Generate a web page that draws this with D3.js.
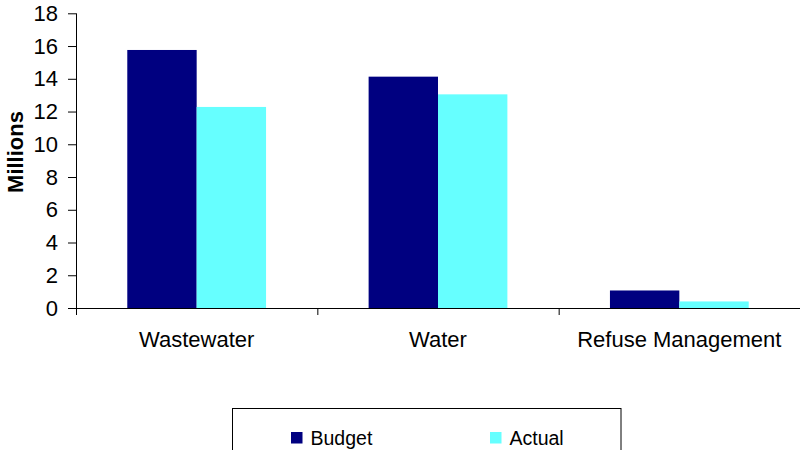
<!DOCTYPE html>
<html>
<head>
<meta charset="utf-8">
<script src="https://cdn.jsdelivr.net/npm/d3@7"></script>
<style>
  html, body { margin: 0; padding: 0; background: #fff; }
  svg { display: block; font-family: "Liberation Sans", Arial, sans-serif; }
</style>
</head>
<body>
<svg id="chart" width="800" height="450"></svg>
<script>
// Budget vs actual spending by utility (millions)
const categories = ["Wastewater", "Water", "Refuse Management"];
const seriesNames = ["Budget", "Actual"];
const budget = [15.76, 14.13, 1.07];
const actual = [12.28, 13.05, 0.40];
const yTicks = [0, 2, 4, 6, 8, 10, 12, 14, 16, 18];
const colors = ["#000080", "#66FFFF"];

const svg = d3.select("#chart");
const plotLeft = 76, plotRight = 800, plotTop = 13.3, plotBottom = 308;

const x = d3.scaleBand().domain(categories).range([plotLeft, plotRight])
  .paddingInner(0.425).paddingOuter(0.2125);
const sub = d3.scaleBand().domain(seriesNames).range([0, x.bandwidth()]);
const y = d3.scaleLinear().domain([0, 18]).range([plotBottom, plotTop]);

const rows = categories.map((c, i) => ({ c, vals: [budget[i], actual[i]] }));

// bars
const g = svg.append("g");
rows.forEach(r => {
  r.vals.forEach((v, j) => {
    g.append("rect")
      .attr("x", x(r.c) + sub(seriesNames[j]))
      .attr("y", y(v))
      .attr("width", sub.bandwidth())
      .attr("height", y(0) - y(v))
      .attr("fill", colors[j]);
  });
});

// y axis
const yAxis = svg.append("g").attr("transform", `translate(${plotLeft},0)`)
  .call(d3.axisLeft(y).tickValues(yTicks).tickSize(8).tickPadding(10).tickSizeOuter(0));
yAxis.select(".domain").attr("d", `M0.5,${plotTop}V${plotBottom + 6}`).attr("stroke", "#000");
yAxis.selectAll(".tick line").attr("stroke", "#000");
yAxis.selectAll(".tick text").attr("font-size", 22).attr("fill", "#000")
  .attr("font-family", "Liberation Sans, Arial, sans-serif");

// x axis with ticks between categories
const boundaries = [plotLeft, ...categories.slice(1).map(c => x(c) - x.step() * x.paddingInner() / 2)];
const xg = svg.append("g");
xg.append("line").attr("x1", plotLeft).attr("x2", plotRight).attr("y1", plotBottom + 0.5).attr("y2", plotBottom + 0.5)
  .attr("stroke", "#000");
xg.selectAll("line.t").data(boundaries).join("line").attr("class", "t")
  .attr("x1", d => d + 0.5).attr("x2", d => d + 0.5).attr("y1", plotBottom).attr("y2", plotBottom + 7)
  .attr("stroke", "#000");
xg.selectAll("text").data(categories).join("text")
  .attr("x", d => x(d) + x.bandwidth() / 2)
  .attr("y", 347)
  .attr("text-anchor", "middle")
  .attr("font-size", 22)
  .attr("fill", "#000")
  .text(d => d);

// y axis title
svg.append("text")
  .attr("transform", `translate(23,152) rotate(-90)`)
  .attr("text-anchor", "middle")
  .attr("font-size", 22)
  .attr("font-weight", "bold")
  .text("Millions");

// legend
const lg = svg.append("g");
lg.append("rect").attr("x", 232.5).attr("y", 408.5).attr("width", 388.5).attr("height", 60)
  .attr("fill", "#fff").attr("stroke", "#000");
const legendPos = [291, 490];
seriesNames.forEach((n, j) => {
  lg.append("rect").attr("x", legendPos[j]).attr("y", 432).attr("width", 11.5).attr("height", 11.5)
    .attr("fill", colors[j]);
  lg.append("text").attr("x", legendPos[j] + 19.5).attr("y", 444.5)
    .attr("font-size", 19.5).attr("fill", "#000").text(n);
});
</script>
</body>
</html>
